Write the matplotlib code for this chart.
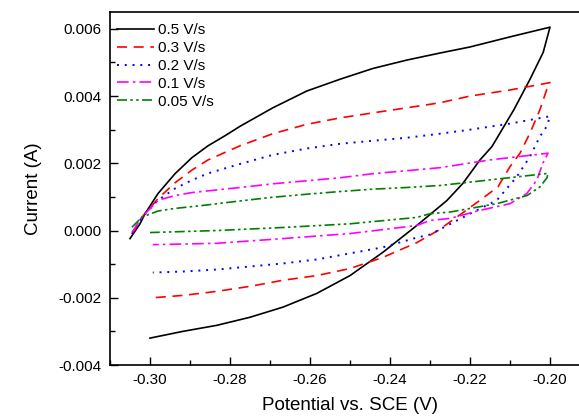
import matplotlib
matplotlib.use("Agg")
import matplotlib.pyplot as plt
from matplotlib.ticker import MultipleLocator, FormatStrFormatter

plt.rcParams['font.family'] = ['Liberation Sans', 'DejaVu Sans']

# scan rate labels
labels = ["0.5 V/s", "0.3 V/s", "0.2 V/s", "0.1 V/s", "0.05 V/s"]

# 0.5 V/s
v_05 = [-0.305, -0.3025, -0.30125, -0.298, -0.29375, -0.2895, -0.2855, -0.28125, -0.2775, -0.2693,
        -0.2608, -0.2525, -0.2443, -0.2358, -0.2275, -0.220, -0.210, -0.201, -0.200, -0.2017,
        -0.205, -0.209, -0.2145, -0.2175, -0.2218, -0.2258, -0.2333, -0.2418, -0.250, -0.2583,
        -0.2668, -0.275, -0.2833, -0.2918, -0.300]
i_05 = [-0.00024, 0.0002, 0.0005, 0.0011, 0.00169, 0.00217, 0.00252, 0.00282, 0.0031, 0.00365,
        0.00415, 0.0045, 0.00482, 0.00507, 0.00528, 0.00546, 0.00576, 0.00602, 0.00605, 0.0053,
        0.0045, 0.0036, 0.0025, 0.0021, 0.0014, 0.00089, 0.00015, -0.00065, -0.00134, -0.00187,
        -0.00228, -0.00258, -0.00282, -0.0030, -0.0032]

# 0.3 V/s
v_03 = [-0.3045, -0.302, -0.298, -0.29375, -0.2895, -0.2855, -0.2775, -0.2693, -0.2608, -0.2525,
        -0.2443, -0.2358, -0.2275, -0.220, -0.210, -0.200, -0.2008, -0.2025, -0.205, -0.2075,
        -0.210, -0.213, -0.2175, -0.2233, -0.228, -0.2333, -0.2418, -0.250, -0.2583, -0.2668,
        -0.275, -0.2833, -0.2918, -0.2993]
i_03 = [-0.0001, 0.0004, 0.00095, 0.00142, 0.0018, 0.0021, 0.00252, 0.00288, 0.00316, 0.00335,
        0.0035, 0.00365, 0.0038, 0.0040, 0.00418, 0.0044, 0.0042, 0.0036, 0.0029, 0.0023,
        0.0019, 0.0013, 0.0009, 0.0004, 0.0, -0.00036, -0.0008, -0.00113, -0.00134, -0.00148,
        -0.00166, -0.00181, -0.00193, -0.0020]

# 0.2 V/s
v_02 = [-0.3045, -0.302, -0.298, -0.29375, -0.2895, -0.2855, -0.2775, -0.2693, -0.2608, -0.2525,
        -0.2443, -0.2358, -0.2275, -0.220, -0.210, -0.200, -0.2008, -0.2025, -0.205, -0.2083,
        -0.2133, -0.220, -0.230, -0.2333, -0.2418, -0.250, -0.2583, -0.2668, -0.275, -0.2833,
        -0.2918, -0.2993]
i_02 = [-0.0001, 0.0004, 0.0009, 0.00125, 0.0015, 0.0017, 0.00198, 0.00225, 0.00244, 0.00258,
        0.00267, 0.00276, 0.00288, 0.0030, 0.00318, 0.0034, 0.0031, 0.0028, 0.0022, 0.0016,
        0.0009, 0.0005, -0.00012, -0.00021, -0.0005, -0.00068, -0.00086, -0.00098, -0.00107, -0.00116,
        -0.00122, -0.00125]

# 0.1 V/s
v_01 = [-0.3045, -0.302, -0.298, -0.29375, -0.2895, -0.2855, -0.2775, -0.2693, -0.2608, -0.2525,
        -0.2443, -0.2358, -0.2275, -0.215, -0.2005, -0.2018, -0.2033, -0.2058, -0.210, -0.2175,
        -0.225, -0.230, -0.2333, -0.250, -0.2668, -0.2833, -0.2993]
i_01 = [-0.00005, 0.0004, 0.0009, 0.00104, 0.00113, 0.00118, 0.00128, 0.00139, 0.00148, 0.00157,
        0.00169, 0.00178, 0.00187, 0.0021, 0.0023, 0.0020, 0.0015, 0.0011, 0.0008, 0.0006,
        0.00036, 0.0003, 0.00015, -0.00009, -0.00024, -0.00038, -0.00042]

# 0.05 V/s
v_005 = [-0.3045, -0.302, -0.298, -0.2943, -0.2858, -0.2775, -0.2693, -0.2608, -0.2525, -0.2443,
         -0.2358, -0.2275, -0.2125, -0.2005, -0.20075, -0.2025, -0.20575, -0.21325, -0.225, -0.230,
         -0.2333, -0.250, -0.2668, -0.2833, -0.300]
i_005 = [0.0001, 0.0004, 0.00058, 0.00065, 0.00076, 0.00088, 0.00099, 0.00108, 0.00116, 0.00123,
         0.00128, 0.00134, 0.00154, 0.0017, 0.00157, 0.0013, 0.00104, 0.0008, 0.00055, 0.0005,
         0.00039, 0.0002, 0.00009, 0.0, -0.00006]

fig = plt.figure(figsize=(5.79, 4.17), dpi=100)
ax = fig.add_axes([0.19, 0.1247, 0.829, 0.8465])

ax.plot(v_05, i_05, color='black', lw=1.2, label=labels[0])
ax.plot(v_03, i_03, color='red', lw=1.2, linestyle=(0, (6, 4)), label=labels[1])
ax.plot(v_02, i_02, color='blue', lw=1.4, linestyle=(0, (1, 3)), label=labels[2])
ax.plot(v_01, i_01, color='magenta', lw=1.2, linestyle=(0, (7, 2.5, 1.5, 2.5)), label=labels[3])
ax.plot(v_005, i_005, color='green', lw=1.2, linestyle=(0, (6, 2, 1.5, 2, 1.5, 2)), label=labels[4])

ax.set_xlim(-0.31, -0.19)
ax.set_ylim(-0.004, 0.0065)
ax.xaxis.set_major_locator(MultipleLocator(0.02))
ax.xaxis.set_minor_locator(MultipleLocator(0.01))
ax.yaxis.set_major_locator(MultipleLocator(0.002))
ax.yaxis.set_minor_locator(MultipleLocator(0.001))
ax.xaxis.set_major_formatter(FormatStrFormatter('%.2f'))
ax.yaxis.set_major_formatter(FormatStrFormatter('%.3f'))
ax.tick_params(which='major', direction='in', length=6, width=1, labelsize=11, pad=6)
ax.tick_params(which='minor', direction='in', length=3.5, width=1)
for s in ax.spines.values():
    s.set_linewidth(1.2)

ax.set_xlabel('Potential vs. SCE (V)', fontsize=13.5, labelpad=7)
ax.set_ylabel('Current (A)', fontsize=13.5, labelpad=12)

ax.legend(loc='upper left', bbox_to_anchor=(0.015, 0.968), frameon=False, fontsize=11,
          handlelength=2.4, handletextpad=0.3, labelspacing=0.25, borderpad=0, borderaxespad=0)

fig.savefig('out.png', dpi=100)
